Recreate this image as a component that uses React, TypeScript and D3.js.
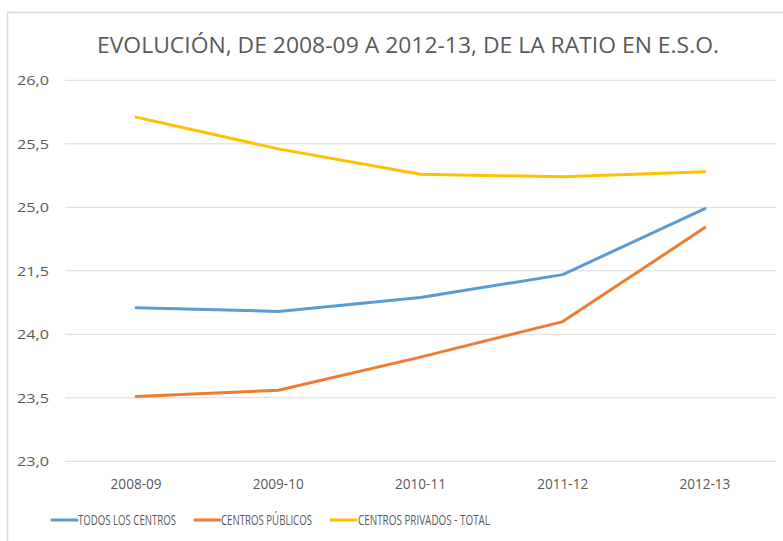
import React from "react";
import * as d3 from "d3";

const TITLE = "EVOLUCIÓN, DE 2008-09 A 2012-13, DE LA RATIO EN E.S.O.";
const CATEGORIES = ["2008-09", "2009-10", "2010-11", "2011-12", "2012-13"];
const TODOS = [24.21, 24.18, 24.29, 24.47, 24.99];
const PUBLICOS = [23.51, 23.56, 23.82, 24.1, 24.84];
const PRIVADOS = [25.71, 25.46, 25.26, 25.24, 25.28];
const Y_TICKS = [23.0, 23.5, 24.0, 24.5, 25.0, 25.5, 26.0];
const Y_TICK_LABELS = ["23,0", "23,5", "24,0", "21,5", "25,0", "25,5", "26,0"];
const SERIES_NAMES = ["TODOS LOS CENTROS", "CENTROS PÚBLICOS", "CENTROS PRIVADOS - TOTAL"];

const W = 783;
const H = 541;
const FONT = "'Open Sans', 'Liberation Sans', sans-serif";
const NARROW = "'Liberation Sans Narrow', 'Open Sans', sans-serif";
const TEXT = "#595959";
const GRID = "#d9d9d9";
const COLORS = ["#5b9bd5", "#ed7d31", "#ffc000"];

export default function App() {
  const series = [TODOS, PUBLICOS, PRIVADOS];

  const x = d3
    .scalePoint<string>()
    .domain(CATEGORIES)
    .range([65, 776])
    .padding(0.5);

  const y = d3.scaleLinear().domain([23, 26]).range([461.3, 80.3]);

  const line = d3
    .line<number>()
    .x((_, i) => x(CATEGORIES[i]) as number)
    .y((d) => y(d));

  // legend layout (swatch start, text start, text width)
  const legend = [
    { sx: 52, tx: 78, tw: 98 },
    { sx: 195, tx: 221, tw: 91 },
    { sx: 331, tx: 358, tw: 132 },
  ];

  return (
    <svg
      width={W}
      height={H}
      style={{ position: "absolute", left: 0, top: 0, display: "block", background: "#fff" }}
    >
      <rect x={7.5} y={12.5} width={W} height={H} fill="#fff" stroke={GRID} strokeWidth={1.5} />

      <text
        x={408}
        y={53}
        textAnchor="middle"
        fontFamily={FONT}
        fontSize={21}
        fill={TEXT}
        textLength={622}
        lengthAdjust="spacingAndGlyphs"
      >
        {TITLE}
      </text>

      {Y_TICKS.map((t, i) => (
        <g key={t}>
          <line x1={65} x2={776} y1={y(t)} y2={y(t)} stroke={GRID} strokeWidth={1} />
          <text
            x={49}
            y={y(t)}
            dy="0.35em"
            textAnchor="end"
            fontFamily={FONT}
            fontSize={13.5}
            fill={TEXT}
            textLength={32}
            lengthAdjust="spacingAndGlyphs"
          >
            {Y_TICK_LABELS[i]}
          </text>
        </g>
      ))}

      {CATEGORIES.map((c) => (
        <text
          key={c}
          x={x(c)}
          y={489}
          textAnchor="middle"
          fontFamily={NARROW}
          fontSize={14}
          fill={TEXT}
          textLength={51}
          lengthAdjust="spacingAndGlyphs"
        >
          {c}
        </text>
      ))}

      {series.map((s, i) => (
        <path
          key={i}
          d={line(s) || ""}
          fill="none"
          stroke={COLORS[i]}
          strokeWidth={3}
          strokeLinejoin="round"
          strokeLinecap="round"
        />
      ))}

      {SERIES_NAMES.map((n, i) => (
        <g key={n}>
          <line
            x1={legend[i].sx}
            x2={legend[i].sx + 25}
            y1={520}
            y2={520}
            stroke={COLORS[i]}
            strokeWidth={3}
            strokeLinecap="round"
          />
          <text
            x={legend[i].tx}
            y={525}
            fontFamily={NARROW}
            fontSize={14}
            fill={TEXT}
            textLength={legend[i].tw}
            lengthAdjust="spacingAndGlyphs"
          >
            {n}
          </text>
        </g>
      ))}
    </svg>
  );
}
